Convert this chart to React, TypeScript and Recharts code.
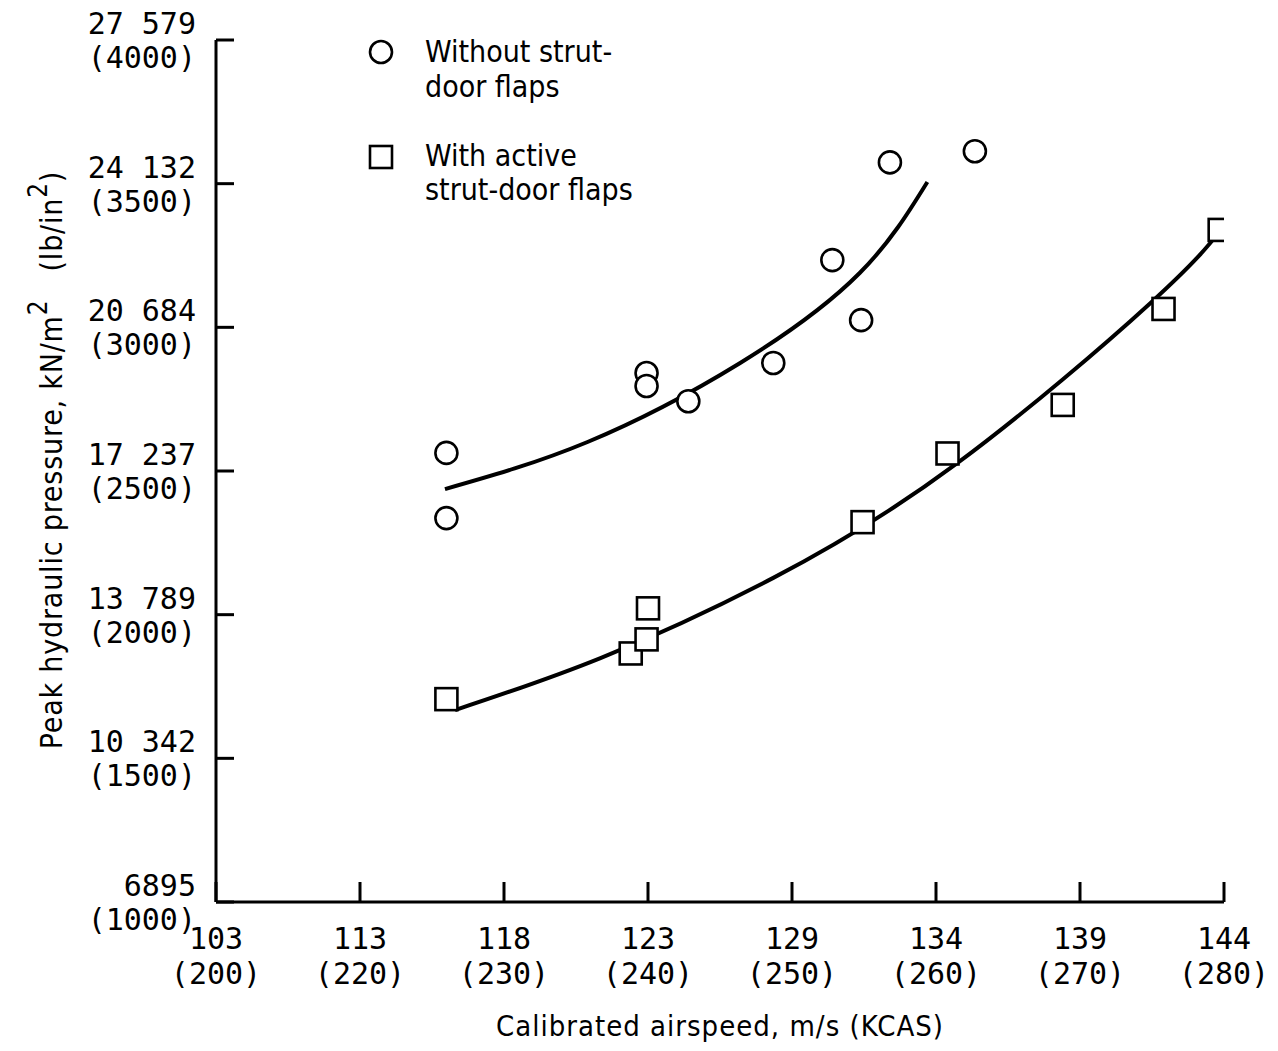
import React from 'react';
import { ComposedChart, Line, Scatter, XAxis, YAxis, Legend } from 'recharts';

// X axis: tick positions (KCAS scale) and printed labels
const xTicks = [210, 220, 230, 240, 250, 260, 270, 280];
const xMsLabels = ['103', '113', '118', '123', '129', '134', '139', '144'];
const xKcasLabels = ['(200)', '(220)', '(230)', '(240)', '(250)', '(260)', '(270)', '(280)'];

// Y axis: psi ticks and printed labels
const yTicks = [1000, 1500, 2000, 2500, 3000, 3500, 4000];
const yKnLabels = ['6895', '10 342', '13 789', '17 237', '20 684', '24 132', '27 579'];
const yPsiLabels = ['(1000)', '(1500)', '(2000)', '(2500)', '(3000)', '(3500)', '(4000)'];

// Measured points: without strut-door flaps (circles)
const withoutKcas = [226.0, 226.0, 239.9, 239.9, 242.8, 248.7, 252.8, 254.8, 256.8, 262.7];
const withoutPsi = [2563, 2336, 2841, 2796, 2743, 2876, 3234, 3025, 3574, 3613];

// Measured points: with active strut-door flaps (squares)
const withKcas = [226.0, 238.8, 239.9, 240.0, 254.9, 260.8, 268.8, 275.8, 279.7];
const withPsi = [1706, 1865, 1914, 2022, 2322, 2561, 2730, 3064, 3339];

// Faired curves
const withoutFitKcas = [225.9, 235.8, 246.4, 254.7, 259.4];
const withoutFitPsi = [2437, 2601, 2876, 3189, 3506];
const withFitKcas = [226.6, 236.7, 248.7, 261.5, 274.9, 279.9];
const withFitPsi = [1668, 1849, 2128, 2528, 3085, 3346];

const zip = (xs: number[], ys: number[]) => xs.map((x, i) => ({ x, y: ys[i] }));
const withoutData = zip(withoutKcas, withoutPsi);
const withData = zip(withKcas, withPsi);
const withoutFit = zip(withoutFitKcas, withoutFitPsi);
const withFit = zip(withFitKcas, withFitPsi);

const numFont = "'DejaVu Sans Mono', 'Liberation Mono', monospace";
const textFont = "'DejaVu Sans Condensed', 'Liberation Sans Narrow', 'DejaVu Sans', sans-serif";

const XTick = (props: any) => {
  const { x, y, payload } = props;
  const i = xTicks.indexOf(payload.value);
  return (
    <g>
      <line x1={x} y1={y} x2={x} y2={y - 20} stroke="#000" strokeWidth={3} />
      <text x={x} y={y + 47} textAnchor="middle" fontFamily={numFont} fontSize={30} fill="#000">
        {xMsLabels[i]}
      </text>
      <text x={x} y={y + 82} textAnchor="middle" fontFamily={numFont} fontSize={30} fill="#000">
        {xKcasLabels[i]}
      </text>
    </g>
  );
};

const YTick = (props: any) => {
  const { x, y, payload } = props;
  const i = yTicks.indexOf(payload.value);
  return (
    <g>
      <line x1={x} y1={y} x2={x + 18} y2={y} stroke="#000" strokeWidth={3} />
      <text x={x - 20} y={y - 6} textAnchor="end" fontFamily={numFont} fontSize={30} fill="#000">
        {yKnLabels[i]}
      </text>
      <text x={x - 20} y={y + 28} textAnchor="end" fontFamily={numFont} fontSize={30} fill="#000">
        {yPsiLabels[i]}
      </text>
    </g>
  );
};

const CircleMark = (props: any) => (
  <circle cx={props.cx} cy={props.cy} r={11} fill="#fff" stroke="#000" strokeWidth={2.6} />
);
const SquareMark = (props: any) => (
  <rect x={props.cx - 11} y={props.cy - 11} width={22} height={22} fill="#fff" stroke="#000" strokeWidth={2.6} />
);

const XTitle = (props: any) => {
  const vb = props.viewBox || {};
  const cx = vb.x + vb.width / 2;
  return (
    <text x={cx} y={vb.y + 134} textAnchor="middle" fontFamily={textFont} fontSize={29} fill="#000" letterSpacing={1}>
      Calibrated airspeed, m/s (KCAS)
    </text>
  );
};

const YTitle = (props: any) => {
  const vb = props.viewBox || {};
  const cx = vb.x + 46;
  const cy = vb.y + vb.height / 2 - 11;
  return (
    <text
      x={cx}
      y={cy}
      transform={`rotate(-90, ${cx}, ${cy})`}
      textAnchor="middle"
      fontFamily={textFont}
      fontSize={30}
      fill="#000"
      letterSpacing={0.8}
    >
      <tspan>Peak hydraulic pressure, kN/m</tspan>
      <tspan dy={-15} fontSize={26}>2</tspan>
      <tspan dy={15}>{'\u00a0\u00a0\u00a0(lb/in'}</tspan>
      <tspan dy={-15} fontSize={26}>2</tspan>
      <tspan dy={15}>)</tspan>
    </text>
  );
};

const LegendBox = () => (
  <svg width={340} height={190} style={{ display: 'block' }}>
    <circle cx={13} cy={22} r={11} fill="#fff" stroke="#000" strokeWidth={2.6} />
    <text x={57} y={32} fontFamily={textFont} fontSize={30} fill="#000">Without strut-</text>
    <text x={57} y={67} fontFamily={textFont} fontSize={30} fill="#000">door flaps</text>
    <rect x={2} y={116} width={22} height={22} fill="#fff" stroke="#000" strokeWidth={2.6} />
    <text x={57} y={136} fontFamily={textFont} fontSize={30} fill="#000">With active</text>
    <text x={57} y={170} fontFamily={textFont} fontSize={30} fill="#000">strut-door flaps</text>
  </svg>
);

export default function App() {
  return (
    <div style={{ width: 1278, height: 1051, margin: '-8px 0 0 -8px', background: '#fff' }}>
      <ComposedChart
        width={1278}
        height={1051}
        margin={{ top: 40, right: 54, bottom: 0, left: 16 }}
      >
        <XAxis
          dataKey="x"
          type="number"
          domain={[210, 280]}
          ticks={xTicks}
          interval={0}
          tickSize={0}
          tickMargin={0}
          height={149}
          axisLine={{ stroke: '#000', strokeWidth: 3 }}
          tick={<XTick />}
          label={<XTitle />}
          allowDataOverflow
        />
        <YAxis
          dataKey="y"
          type="number"
          domain={[1000, 4000]}
          ticks={yTicks}
          interval={0}
          tickSize={0}
          tickMargin={0}
          width={200}
          axisLine={{ stroke: '#000', strokeWidth: 3 }}
          tick={<YTick />}
          label={<YTitle />}
          allowDataOverflow
        />
        <Legend
          layout="vertical"
          align="center"
          verticalAlign="middle"
          wrapperStyle={{ position: 'absolute', left: 368, top: 30, width: 340, height: 190 }}
          content={() => <LegendBox />}
        />
        <Line
          data={withoutFit}
          dataKey="y"
          type="natural"
          stroke="#000"
          strokeWidth={4}
          dot={false}
          activeDot={false}
          isAnimationActive={false}
          legendType="none"
        />
        <Line
          data={withFit}
          dataKey="y"
          type="natural"
          stroke="#000"
          strokeWidth={4}
          dot={false}
          activeDot={false}
          isAnimationActive={false}
          legendType="none"
        />
        <Scatter data={withoutData} dataKey="y" shape={<CircleMark />} isAnimationActive={false} />
        <Scatter data={withData} dataKey="y" shape={<SquareMark />} isAnimationActive={false} />
      </ComposedChart>
    </div>
  );
}
